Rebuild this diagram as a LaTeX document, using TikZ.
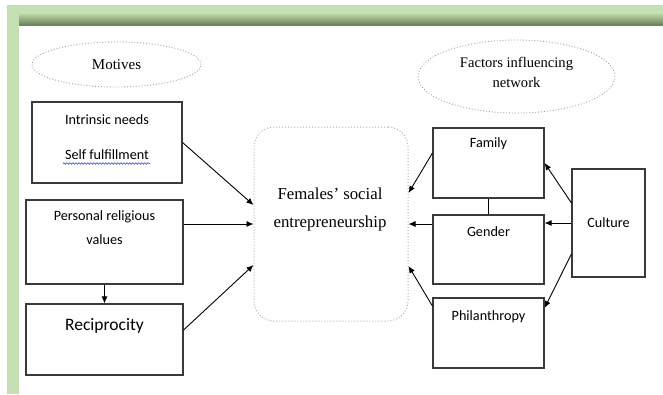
\documentclass[tikz,border=0pt]{standalone}
\usepackage{fontspec}
\setmainfont{Liberation Serif}
\newfontfamily\boxfont{Carlito}
\usetikzlibrary{arrows.meta,shapes.geometric,decorations.pathmorphing}
\definecolor{lgreen}{HTML}{C4DFB2}
\definecolor{dgreen}{HTML}{6A8257}
\definecolor{boxline}{HTML}{3A3A3A}
\definecolor{spell}{HTML}{5A5AD0}
\tikzset{
  boxnode/.style={draw=boxline, line width=1.1pt, rectangle, inner sep=0pt, fill=white},
  boxtext/.style={font=\boxfont\fontsize{14.2}{16}\selectfont, inner sep=0pt, anchor=center},
  serif/.style={font=\fontsize{14.6}{17}\selectfont, inner sep=0pt, align=center},
  ovalnode/.style={draw=gray!75, dotted, line width=0.9pt, ellipse, inner sep=0pt},
  arr/.style={-{Latex[length=7pt,width=6pt]}, line width=0.9pt, black},
  plain/.style={line width=0.9pt, black}
}
\begin{document}
\begin{tikzpicture}[x=1pt,y=-1pt]
\useasboundingbox (0,0) rectangle (663,394);
\fill[white] (0,0) rectangle (663,394);
% green frame
\fill[lgreen] (7,5) rectangle (19,394);
\fill[lgreen] (7,5) rectangle (663,13);
\shade[top color=lgreen, bottom color=dgreen] (19,12.5) rectangle (663,25);

% ellipses
\node[ovalnode, minimum width=169pt, minimum height=45pt] (mot) at (116.5,64.5) {};
\node[serif, font=\fontsize{15}{17}\selectfont] (mott) at (116.5,64.5) {Motives};
\node[ovalnode, minimum width=197pt, minimum height=73pt] (fac) at (516.5,76.5) {};
\node[serif] (fact1) at (516.5,64) {Factors influencing};
\node[serif] (fact2) at (516.5,83) {network};

% central
\node[draw=gray!60, dotted, line width=1pt, rounded corners=20pt, minimum width=154pt, minimum height=194pt, inner sep=0pt] (cen) at (331,224) {};
\node[font=\fontsize{16.8}{19}\selectfont, inner sep=0pt] (cen1) at (330,194) {Females’ social};
\node[font=\fontsize{16.8}{19}\selectfont, inner sep=0pt] (cen2) at (330,223) {entrepreneurship};

% left boxes
\node[boxnode, minimum width=150pt, minimum height=81pt] (intr) at (107,142.5) {};
\node[boxtext] (intr1) at (107,120) {Intrinsic needs};
\node[boxtext] (intr2) at (107,155) {Self fulfillment};
\draw[spell, line width=0.7pt, decorate, decoration={snake, amplitude=0.8pt, segment length=3pt}] (63,163.5) -- (150,163.5);

\node[boxnode, minimum width=157pt, minimum height=84pt] (prv) at (104.5,242) {};
\node[boxtext] (prv1) at (104.5,217) {Personal religious};
\node[boxtext] (prv2) at (104.5,240) {values};

\node[boxnode, minimum width=157pt, minimum height=71pt] (rec) at (104.5,339.5) {};
\node[boxtext, font=\boxfont\fontsize{17.5}{20}\selectfont] (rect) at (104.5,326) {Reciprocity};

% right boxes
\node[boxnode, minimum width=111pt, minimum height=70pt] (fam) at (488.5,163) {};
\node[boxtext] (famt) at (488.5,144) {Family};
\node[boxnode, minimum width=111pt, minimum height=69pt] (gen) at (488.5,249.5) {};
\node[boxtext] (gent) at (488.5,232) {Gender};
\node[boxnode, minimum width=111pt, minimum height=70pt] (phil) at (488.5,333) {};
\node[boxtext] (philt) at (488.5,317) {Philanthropy};
\node[boxnode, minimum width=73pt, minimum height=108pt] (cult) at (608.5,223) {};
\node[boxtext] (cultt) at (608.5,223) {Culture};

% connectors left
\draw[arr] (intr.east) -- ([yshift=19pt]cen.west);
\draw[arr] ([yshift=18pt]prv.east) -- (cen.west);
\draw[arr] ([yshift=9.5pt]rec.east) -- ([yshift=-41pt]cen.west);
\draw[arr] (prv.south) -- (rec.north);

% connectors right
\draw[arr] ([yshift=10pt]fam.west) -- ([yshift=31pt]cen.east);
\draw[arr] ([yshift=25.5pt]gen.west) -- (cen.east);
\draw[arr] ([yshift=27pt]phil.west) -- ([yshift=-42pt]cen.east);
\draw[plain] (fam.south) -- (gen.north);
\draw[arr] ([yshift=20pt]cult.west) -- (fam.east);
\draw[arr] (cult.west) -- (gen.east |- cult.west);
\draw[arr] ([yshift=-31pt]cult.west) -- ([yshift=25pt]phil.east);
\end{tikzpicture}
\end{document}
